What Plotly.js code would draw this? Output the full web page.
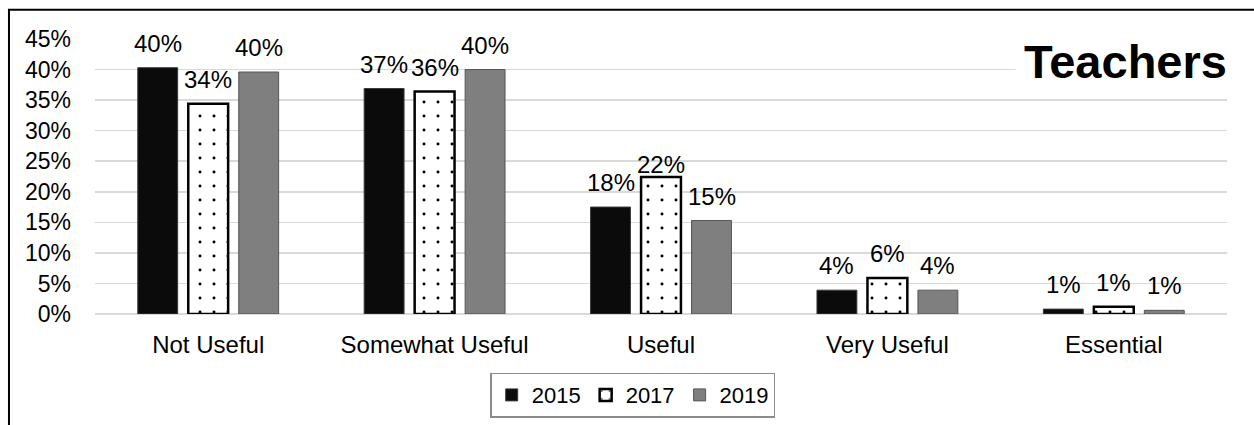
<!DOCTYPE html>
<html>
<head>
<meta charset="utf-8">
<script src="https://cdn.plot.ly/plotly-3.0.1.min.js"></script>
<style>html,body{margin:0;padding:0;background:#fff;}#chart{width:1254px;height:425px;}</style>
</head>
<body>
<div id="chart"></div>
<script>
const categories = ["Not Useful", "Somewhat Useful", "Useful", "Very Useful", "Essential"];
const years = ["2015", "2017", "2019"];
const values2015 = [0.403, 0.369, 0.175, 0.039, 0.008];
const values2017 = [0.344, 0.364, 0.224, 0.059, 0.012];
const values2019 = [0.396, 0.400, 0.153, 0.039, 0.006];
const yTicks = [0, 0.05, 0.10, 0.15, 0.20, 0.25, 0.30, 0.35, 0.40, 0.45];
const chartLabel = "Teachers";

const FONT = "Liberation Sans, Arial, sans-serif";
const series = [values2015, values2017, values2019];
const styles = [
  {color: "#0b0b0b", line: {color: "#3a3a3a", width: 1}},
  {color: "#ffffff", line: {color: "#000000", width: 2.5},
   pattern: {shape: ".", fgcolor: "#000000", bgcolor: "#ffffff", size: 14, solidity: 0.035, fillmode: "replace"}},
  {color: "#7f7f7f", line: {color: "#555555", width: 1}}
];

const traces = series.map((vals, i) => ({
  type: "bar",
  name: years[i],
  x: categories,
  y: vals,
  marker: styles[i],
  hoverinfo: "skip"
}));

const pitch = 50.5;
const annotations = [];
series.forEach((vals, i) => {
  vals.forEach((v, j) => {
    let gap = 9;
    if (i === 1 && j === 2) gap = -3;
    annotations.push({
      x: categories[j], y: v, xref: "x", yref: "y",
      xshift: (i - 1) * pitch, yshift: gap,
      yanchor: "bottom", showarrow: false,
      text: Math.round(v * 100) + "%",
      font: {family: FONT, size: 24, color: "#000"}
    });
  });
});
annotations.push({
  x: 0.91, y: 0.917, xref: "paper", yref: "paper",
  xanchor: "center", yanchor: "middle", showarrow: false,
  text: "<b>" + chartLabel + "</b>",
  bgcolor: "#ffffff", borderpad: 8,
  font: {family: FONT, size: 47, color: "#000"}
});

const layout = {
  width: 1254, height: 425,
  margin: {l: 95, r: 27, t: 39, b: 111, autoexpand: false},
  paper_bgcolor: "#fff", plot_bgcolor: "#fff",
  font: {family: FONT, color: "#000"},
  barmode: "group",
  bargap: 0.331,
  bargroupgap: 0.21,
  showlegend: true,
  legend: {
    orientation: "h", x: 0.475, xanchor: "center", y: -0.213, yanchor: "top",
    bordercolor: "#8c8c8c", borderwidth: 1.5,
    font: {family: FONT, size: 22, color: "#000"},
    itemwidth: 30, traceorder: "normal"
  },
  xaxis: {
    type: "category", automargin: false,
    tickfont: {family: FONT, size: 24, color: "#000"},
    ticks: "", showgrid: false, showline: false, zeroline: false,
    ticklabelstandoff: 14
  },
  yaxis: {
    range: [0, 0.45], automargin: false,
    tickvals: yTicks,
    tickformat: ".0%",
    tickfont: {family: FONT, size: 23, color: "#000"},
    ticks: "", showline: false,
    showgrid: true, gridcolor: "#d9d9d9", gridwidth: 1.5,
    zeroline: true, zerolinecolor: "#d9d9d9", zerolinewidth: 1.5,
    ticklabelstandoff: 23
  },
  shapes: [{
    type: "rect", xref: "paper", yref: "paper",
    x0: -0.076, x1: 1.2, y0: -0.6, y1: 1.1065,
    line: {color: "#000", width: 2}, fillcolor: "rgba(0,0,0,0)", layer: "below"
  }],
  annotations: annotations
};

Plotly.newPlot("chart", traces, layout, {staticPlot: true, displayModeBar: false});
</script>
</body>
</html>
